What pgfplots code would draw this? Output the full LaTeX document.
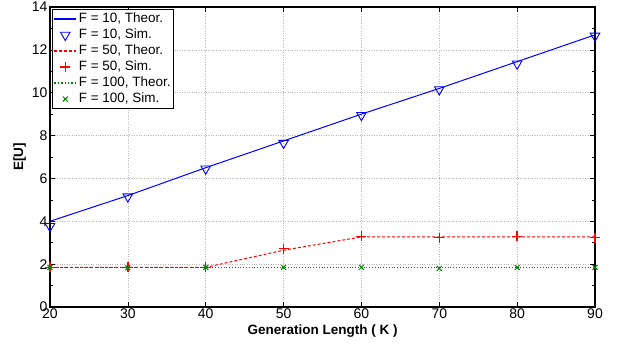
\documentclass[border=0pt]{standalone}
\usepackage{fontspec}
\setmainfont{Liberation Sans}
\usepackage{pgfplots}
\pgfplotsset{compat=1.18}
\definecolor{mblue}{RGB}{0,0,255}
\definecolor{mred}{RGB}{255,0,0}
\definecolor{mgreen}{RGB}{0,128,0}
\begin{document}
\begin{tikzpicture}
\path[use as bounding box] (-50pt,-38pt) rectangle (567pt,307pt);
\begin{axis}[at={(0,0)}, anchor=south west, scale only axis,
  width=545pt, height=300pt,
  xmin=20, xmax=90, ymin=0, ymax=14,
  xtick={20,30,...,90}, ytick={0,2,...,14}, minor y tick num=1,
  tick align=inside, major tick length=5pt, minor tick length=3pt,
  grid=major, major grid style={dotted, gray!55, line width=0.6pt},
  axis line style={line width=1.3pt},
  every tick/.style={black, line width=0.6pt},
  tick label style={font=\fontsize{14}{16}\selectfont},
  xticklabel style={yshift=2pt},
  yticklabel style={xshift=1pt},
  /pgf/number format/assume math mode=true,
  xlabel={\textbf{Generation Length ( K )}}, ylabel={\textbf{E[U]}},
  label style={font=\fontsize{13.5}{15}\selectfont},
  xlabel style={yshift=1pt},
  ylabel style={yshift=-1pt},
  legend cell align=left,
  legend style={at={(0.004,0.994)}, anchor=north west, draw=black, line width=1.2pt,
    font=\fontsize{13.5}{15}\selectfont, inner sep=1pt, row sep=-1.5pt,
    nodes={inner sep=2pt, text height=10pt, text depth=3.5pt}},
  legend image post style={line width=1.4pt},
  legend image code/.code={\draw[mark repeat=2,mark phase=2] plot coordinates {(0cm,0.1pt) (0.38cm,0.1pt) (0.76cm,0.1pt)};},
]
\addplot[mblue, line width=1pt] coordinates {(20,4.0) (30,5.2) (40,6.5) (50,7.75) (60,9.0) (70,10.2) (80,11.45) (90,12.7)};
\addlegendentry{F = 10, Theor.}
\addplot[mblue, only marks, mark=triangle, mark size=5.5pt, mark options={rotate=180, line width=0.9pt, fill=white}] coordinates {(20,3.77) (30,5.15) (40,6.45) (50,7.65) (60,8.95) (70,10.15) (80,11.35) (90,12.65)};
\addlegendentry{F = 10, Sim.}
\addplot[mred, densely dashed, line width=1pt] coordinates {(20,1.85) (30,1.85) (40,1.85) (50,2.65) (60,3.27) (70,3.27) (80,3.27) (90,3.27)};
\addlegendentry{F = 50, Theor.}
\addplot[mred, only marks, mark=+, mark size=5pt, mark options={line width=1.3pt}] coordinates {(20,1.85) (30,1.85) (40,1.85) (50,2.73) (60,3.30) (70,3.24) (80,3.30) (90,3.24)};
\addlegendentry{F = 50, Sim.}
\addplot[mgreen, dotted, line width=0.8pt] coordinates {(20,1.85) (30,1.85) (40,1.85) (50,1.85) (60,1.85) (70,1.85) (80,1.85) (90,1.85)};
\addlegendentry{F = 100, Theor.}
\addplot[mgreen, only marks, mark=x, mark size=3.5pt, mark options={line width=1pt}] coordinates {(20,1.85) (30,1.83) (40,1.85) (50,1.85) (60,1.85) (70,1.80) (80,1.84) (90,1.85)};
\addlegendentry{F = 100, Sim.}
\end{axis}
\end{tikzpicture}
\end{document}
